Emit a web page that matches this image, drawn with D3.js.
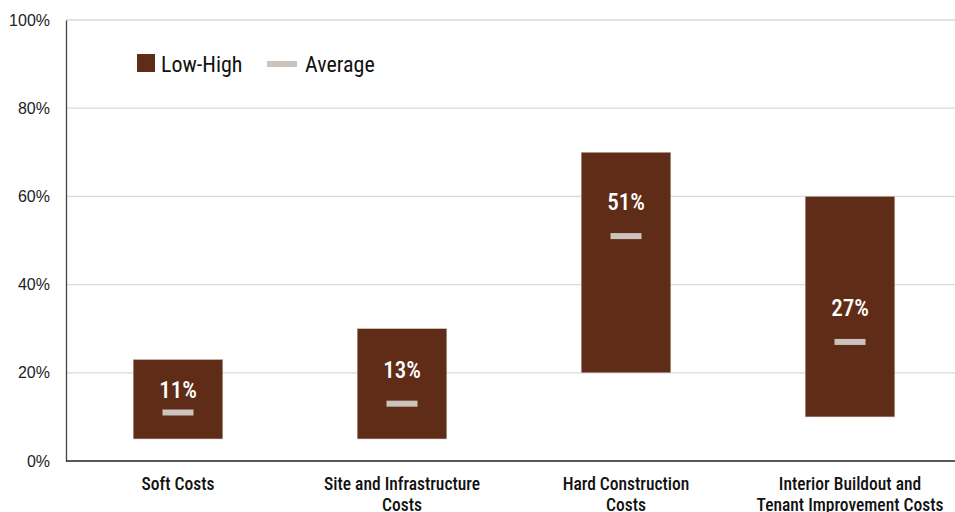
<!DOCTYPE html>
<html><head><meta charset="utf-8">
<script src="https://cdn.jsdelivr.net/npm/d3@7"></script>
<style>body{margin:0;background:#fff}</style>
</head><body>
<svg id="c" width="955" height="512"></svg>
<script>
const categories = [["Soft Costs"], ["Site and Infrastructure", "Costs"], ["Hard Construction", "Costs"], ["Interior Buildout and", "Tenant Improvement Costs"]];
const lowValues = [5, 5, 20, 10];
const highValues = [23, 30, 70, 60];
const avgValues = [11, 13, 51, 27];
const yTicks = [0, 20, 40, 60, 80, 100];

const svg = d3.select("#c");
const margin = {left: 66, right: -7, top: 20, bottom: 51};
const W = 955, H = 512;
const narrow = "'Liberation Sans Narrow','Arial Narrow','Roboto Condensed',Roboto,sans-serif";
const x = d3.scaleBand().domain(d3.range(categories.length)).range([margin.left, W - margin.right]).paddingInner(0.6).paddingOuter(0.3);
const y = d3.scaleLinear().domain([0, 100]).range([H - margin.bottom, margin.top]);

// gridlines
svg.append("g").selectAll("line").data(yTicks.filter(d => d > 0)).join("line")
  .attr("x1", margin.left).attr("x2", W).attr("y1", d => y(d)).attr("y2", d => y(d))
  .attr("stroke", "#d9d9d9").attr("stroke-width", 1.3);

// y axis
const ya = svg.append("g").attr("transform", `translate(${margin.left},0)`)
  .call(d3.axisLeft(y).tickValues(yTicks).tickFormat(d => d + "%").tickSize(0).tickPadding(16));
ya.select(".domain").attr("stroke", "#444").attr("stroke-width", 1.3);
ya.selectAll("text").attr("font-family", "'Liberation Sans',Arial,sans-serif").attr("font-size", 16).attr("fill", "#222");

// bars
const idx = d3.range(categories.length);
svg.append("g").selectAll("rect").data(idx).join("rect")
  .attr("x", i => x(i)).attr("width", x.bandwidth())
  .attr("y", i => y(highValues[i])).attr("height", i => y(lowValues[i]) - y(highValues[i]))
  .attr("fill", "#5f2d17").attr("stroke", "#c8bfba").attr("stroke-width", 0.5);

// averages
const mw = 31, mh = 6;
svg.append("g").selectAll("rect").data(idx).join("rect")
  .attr("x", i => x(i) + x.bandwidth() / 2 - mw / 2).attr("width", mw)
  .attr("y", i => y(avgValues[i]) - mh / 2).attr("height", mh)
  .attr("fill", "#cdc3bd");
svg.append("g").selectAll("text").data(idx).join("text")
  .attr("x", i => x(i) + x.bandwidth() / 2)
  .attr("y", i => Math.max(y(avgValues[i]) - 26, y(highValues[i]) + 38))
  .attr("text-anchor", "middle").attr("font-family", narrow).attr("font-size", 23).attr("font-weight", 500)
  .attr("fill", "#fff").text(i => avgValues[i] + "%");

// x axis
svg.append("line").attr("x1", margin.left).attr("x2", W).attr("y1", y(0)).attr("y2", y(0))
  .attr("stroke", "#222").attr("stroke-width", 1.3);
const xl = svg.append("g").selectAll("text").data(idx).join("text")
  .attr("x", i => x(i) + x.bandwidth() / 2).attr("y", 490)
  .attr("text-anchor", "middle").attr("font-family", narrow).attr("font-size", 17.5).attr("font-weight", 500)
  .attr("fill", "#111");
xl.each(function(i) {
  const t = d3.select(this);
  categories[i].forEach((line, k) => t.append("tspan").attr("x", x(i) + x.bandwidth() / 2).attr("dy", k ? 21 : 0).text(line));
});

// legend
const lg = svg.append("g");
lg.append("rect").attr("x", 137).attr("y", 54).attr("width", 18).attr("height", 18).attr("fill", "#5f2d17");
lg.append("text").attr("x", 161).attr("y", 72).attr("font-family", narrow).attr("font-size", 22).attr("fill", "#111").text("Low-High");
lg.append("rect").attr("x", 267).attr("y", 61).attr("width", 30).attr("height", 6).attr("fill", "#cdc3bd");
lg.append("text").attr("x", 305).attr("y", 72).attr("font-family", narrow).attr("font-size", 22).attr("fill", "#111").text("Average");
</script>
</body></html>
